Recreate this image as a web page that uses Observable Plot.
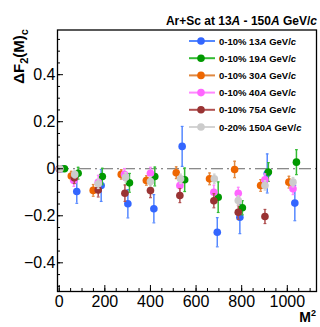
<!DOCTYPE html>
<html><head><meta charset="utf-8">
<script src="https://cdn.jsdelivr.net/npm/d3@7"></script>
<script src="https://cdn.jsdelivr.net/npm/@observablehq/plot@0.6"></script>
<style>
body{margin:0;background:#fff;}
#wrap{position:relative;width:320px;height:327px;overflow:hidden;font-family:"Liberation Sans",Arial,sans-serif;}
#wrap svg{position:absolute;left:0;top:0;}
</style></head><body><div id="wrap"></div><script>
// ---- data ----
const centrality = ["0-10%","0-10%","0-10%","0-10%","0-10%","0-20%"];
const energies = ["13","19","30","40","75","150"];
const markerColors = ["#3366ff","#009900","#ee6600","#ff66ff","#993333","#cccccc"];
const barColors = ["#5588ff","#33bb33","#e08840","#ff88ff","#b05050","#d4d4d4"];

const m2_13  = [10, 77, 184, 301, 415, 539, 693, 792, 912, 1033];
const f2_13  = [0, -0.097, -0.071, -0.149, -0.170, 0.095, -0.270, -0.206, -0.020, -0.146];
const err_13 = [0.01, 0.050, 0.068, 0.060, 0.060, 0.085, 0.062, 0.070, 0.083, 0.075];

const m2_19  = [23, 83, 189, 308, 419, 550, 697, 803, 917, 1040];
const f2_19  = [0, -0.019, -0.033, -0.060, -0.033, -0.047, -0.121, -0.166, -0.014, 0.028];
const err_19 = [0.01, 0.025, 0.035, 0.040, 0.040, 0.050, 0.065, 0.030, 0.040, 0.053];

const m2_30  = [1, 53, 149, 272, 382, 513, 659, 769, 883, 1007];
const f2_30  = [0, -0.031, -0.092, -0.024, -0.050, -0.017, -0.043, -0.003, -0.071, -0.057];
const err_30 = [0.01, 0.020, 0.025, 0.020, 0.020, 0.025, 0.025, 0.035, 0.025, 0.025];

const m2_40  = [1, 64, 171, 286, 400, 529, 678, 785, 902, 1025];
const f2_40  = [0, -0.050, -0.058, -0.024, -0.019, -0.071, -0.100, -0.104, -0.047, -0.085];
const err_40 = [0.01, 0.025, 0.030, 0.025, 0.025, 0.030, 0.030, 0.025, 0.025, 0.025];

const m2_75  = [1, 66, 171, 288, 400, 529, 678, 785, 902];
const f2_75  = [0, -0.038, -0.090, -0.104, -0.093, -0.114, -0.136, -0.185, -0.203];
const err_75 = [0.01, 0.025, 0.030, 0.035, 0.030, 0.030, 0.030, 0.030, 0.030];

const m2_150  = [3, 68, 171, 291, 400, 532, 680, 785, 902, 1025];
const f2_150  = [0, -0.024, -0.064, -0.036, -0.054, -0.043, -0.043, -0.135, -0.071, -0.057];
const err_150 = [0.005, 0.015, 0.020, 0.020, 0.020, 0.020, 0.020, 0.020, 0.020, 0.020];

const yMajor = [-0.4, -0.2, 0, 0.2, 0.4];
const yMinor = d3.range(-0.5, 0.56, 0.05).map(v => +v.toFixed(2));
const xMajor = [0, 200, 400, 600, 800, 1000];
const xMinor = d3.range(0, 1101, 50);

// ---- build table ----
const xs = [m2_13, m2_19, m2_30, m2_40, m2_75, m2_150];
const ys = [f2_13, f2_19, f2_30, f2_40, f2_75, f2_150];
const es = [err_13, err_19, err_30, err_40, err_75, err_150];
const seriesData = xs.map((xa, i) => xa.map((x, j) => ({x, y: ys[i][j], e: es[i][j]})));

const cap = {draw(ctx, size){ const r = Math.sqrt(size/Math.PI); ctx.moveTo(-r,0); ctx.lineTo(r,0); }};

const marks = [
  Plot.ruleY([0], {stroke:"#666", strokeWidth:1, strokeDasharray:"12,4,2,4"}),
];
seriesData.forEach((sd, i) => {
  marks.push(Plot.ruleX(sd, {x:"x", y1: d => d.y - d.e, y2: d => d.y + d.e, stroke: barColors[i], strokeWidth:1.5}));
  marks.push(Plot.dot(sd, {x:"x", y: d => d.y - d.e, symbol: cap, r:1.4, stroke: barColors[i], strokeWidth:1.2}));
  marks.push(Plot.dot(sd, {x:"x", y: d => d.y + d.e, symbol: cap, r:1.4, stroke: barColors[i], strokeWidth:1.2}));
  marks.push(Plot.dot(sd, {x:"x", y:"y", r:3.8, fill: markerColors[i], stroke:"none"}));
});
const fmtY = d => d === 0 ? "0" : d3.format(".1f")(d).replace("-", "\u2212");
marks.push(
  Plot.axisY({ticks: yMajor, tickSize: 0, tickPadding: 2, tickFormat: fmtY, fontSize: 16, label: null}),
  Plot.axisY({ticks: yMajor, tickSize: -6, tickFormat: () => "", label: null, stroke:"#000"}),
  Plot.axisY({ticks: yMinor, tickSize: -3, tickFormat: () => "", label: null, stroke:"#000"}),
  Plot.axisX({ticks: xMajor, tickSize: 0, tickPadding: 4, tickFormat: d => String(d), fontSize: 16, label: null}),
  Plot.axisX({ticks: xMajor, tickSize: -6, tickFormat: () => "", label: null, stroke:"#000"}),
  Plot.axisX({ticks: xMinor, tickSize: -3, tickFormat: () => "", label: null, stroke:"#000"}),
  Plot.frame({stroke:"#000", strokeWidth:1.3})
);

const chart = Plot.plot({
  width: 320, height: 327,
  marginLeft: 57, marginRight: 4, marginTop: 29.5, marginBottom: 36,
  style: {fontFamily: '"Liberation Sans", Arial, sans-serif', color: "#000", background: "#fff"},
  x: {domain: [-7.5, 1128], label: null},
  y: {domain: [-0.522, 0.59], label: null},
  marks
});
document.getElementById("wrap").appendChild(chart);

// ---- overlay texts: title, axis titles, legend ----
const ov = d3.select("#wrap").append("svg").attr("width", 320).attr("height", 327)
  .style("font-family", '"Liberation Sans", Arial, sans-serif');

const title = ov.append("text").attr("x", 317).attr("y", 25).attr("text-anchor", "end")
  .attr("font-weight", "bold").attr("font-size", 12);
title.append("tspan").text("Ar+Sc at 13");
title.append("tspan").attr("font-style", "italic").text("A");
title.append("tspan").text(" - 150");
title.append("tspan").attr("font-style", "italic").text("A");
title.append("tspan").text(" GeV/");
title.append("tspan").attr("font-style", "italic").text("c");

const yl = ov.append("text").attr("transform", "translate(24,29) rotate(-90)").attr("text-anchor", "end")
  .attr("font-weight", "bold").attr("font-size", 15);
yl.append("tspan").text("\u0394F");
yl.append("tspan").attr("font-size", 11).attr("dy", 4).text("2");
yl.append("tspan").attr("dy", -4).text("(M)");
yl.append("tspan").attr("font-size", 11).attr("dy", 4).text("c");

const xl = ov.append("text").attr("x", 316).attr("y", 322).attr("text-anchor", "end")
  .attr("font-weight", "bold").attr("font-size", 14);
xl.append("tspan").text("M");
xl.append("tspan").attr("font-size", 9).attr("dy", -6).text("2");

energies.forEach((en, i) => {
  const y = 41 + 17.2 * i;
  ov.append("line").attr("x1", 189).attr("x2", 215).attr("y1", y).attr("y2", y)
    .attr("stroke", barColors[i]).attr("stroke-width", 2);
  ov.append("circle").attr("cx", 201).attr("cy", y).attr("r", 3.8).attr("fill", markerColors[i]);
  const t = ov.append("text").attr("x", 219).attr("y", y + 3.5).attr("font-weight", "bold").attr("font-size", 9.5);
  t.append("tspan").text(centrality[i] + " " + en);
  t.append("tspan").attr("font-style", "italic").text("A");
  t.append("tspan").text(" GeV/");
  t.append("tspan").attr("font-style", "italic").text("c");
});
</script></body></html>
